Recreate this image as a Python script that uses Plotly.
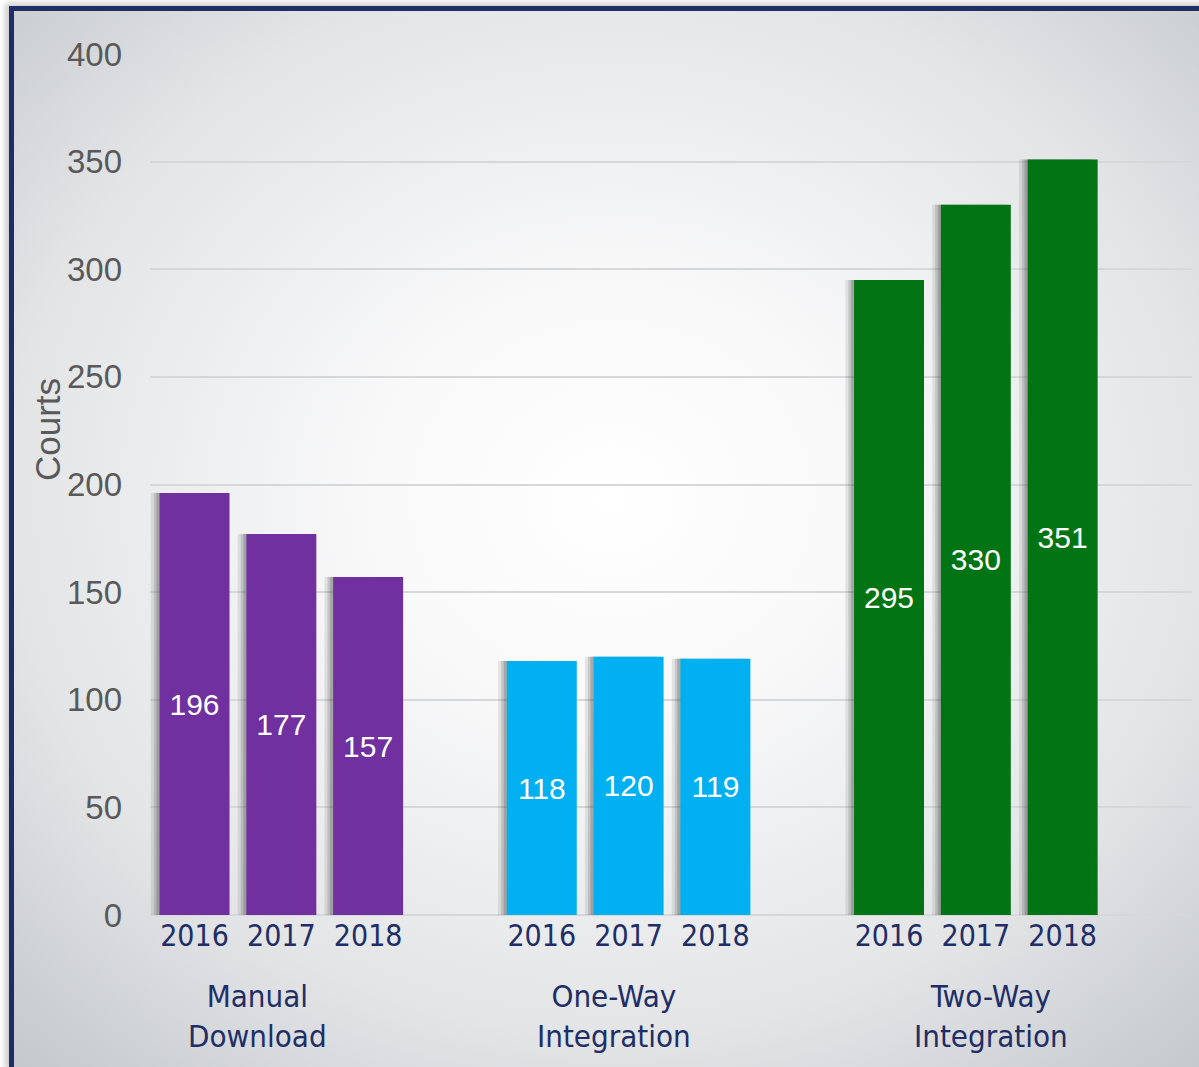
import base64
import plotly.graph_objects as go

groups = ["Manual<br>Download", "One-Way<br>Integration", "Two-Way<br>Integration"]
years = ["2016", "2017", "2018"]
manual_download = [196, 177, 157]
one_way = [118, 120, 119]
two_way = [295, 330, 351]
series = [manual_download, one_way, two_way]
colors = ["#7030a0", "#00b0f0", "#037413"]

W, H = 1199, 1067
ML, MR, MT, MB = 150, 7, 54, 152
pw, ph = W - ML - MR, H - MT - MB

navy = "#202d66"
gray = "#595959"
num_font = "Liberation Sans, Arial, sans-serif"
lab_font = "DejaVu Sans Condensed, DejaVu Sans, sans-serif"

# background panel: radial gradient + navy frame + soft shadow
svg = f"""<svg xmlns="http://www.w3.org/2000/svg" width="{W}" height="{H}" viewBox="0 0 {W} {H}" preserveAspectRatio="none">
<defs>
<radialGradient id="bg" cx="0.5" cy="0.46" r="0.72">
<stop offset="0" stop-color="#ffffff"/>
<stop offset="0.3" stop-color="#f8f8f9"/>
<stop offset="0.7" stop-color="#e2e4e6"/>
<stop offset="1" stop-color="#c6c9cd"/>
</radialGradient>
<filter id="blur" x="-5%" y="-5%" width="110%" height="110%"><feGaussianBlur stdDeviation="3"/></filter>
</defs>
<rect width="{W}" height="{H}" fill="#ffffff"/>
<rect x="5" y="3" width="{W}" height="{H}" fill="#8a8a8a" opacity="0.45" filter="url(#blur)"/>
<rect x="12" y="9" width="{W}" height="{H}" fill="url(#bg)"/>
<line x1="11.5" y1="6" x2="11.5" y2="{H}" stroke="{navy}" stroke-width="5"/>
<line x1="9" y1="8.5" x2="{W}" y2="8.5" stroke="{navy}" stroke-width="5"/>
</svg>"""
bg_src = "data:image/svg+xml;base64," + base64.b64encode(svg.encode()).decode()

# bar positions: 4 slots per group, 3 bars used
xs = [[g * 4 + j for j in range(len(years))] for g in range(len(groups))]
bw = 0.806
label_shift = [-24, -15, 15]  # group captions sit slightly off-centre in the original

fig = go.Figure()

for g, vals in enumerate(series):
    for dx, op in [(0.10, 0.10), (0.065, 0.15), (0.035, 0.2)]:
        fig.add_trace(
            go.Bar(
                x=xs[g],
                y=vals,
                width=bw,
                offset=-bw / 2 - dx,
                marker=dict(color=f"rgba(40,40,40,{op})", line_width=0),
                hoverinfo="skip",
                showlegend=False,
            )
        )

for g, vals in enumerate(series):
    fig.add_trace(
        go.Bar(
            x=xs[g],
            y=vals,
            width=bw,
            marker=dict(color=colors[g], line_width=0),
            text=[str(v) for v in vals],
            textposition="inside",
            insidetextanchor="middle",
            textangle=0,
            constraintext="none",
            textfont=dict(family=num_font, size=30, color="white"),
            showlegend=False,
            name=groups[g].replace("<br>", " "),
        )
    )

for g, name in enumerate(groups):
    fig.add_annotation(
        x=xs[g][1],
        y=-101 / ph,
        xref="x",
        yref="paper",
        xshift=label_shift[g],
        text=name,
        showarrow=False,
        font=dict(family=lab_font, size=31, color=navy),
        xanchor="center",
        yanchor="middle",
    )

fig.add_annotation(
    x=(48 - ML) / pw,
    y=(915 - 430) / ph,
    xref="paper",
    yref="paper",
    text="Courts",
    textangle=-90,
    showarrow=False,
    xanchor="center",
    yanchor="middle",
    font=dict(family=num_font, size=35, color=gray),
)

fig.add_layout_image(
    source=bg_src,
    xref="paper",
    yref="paper",
    x=-ML / pw,
    y=(ph + MT) / ph,
    sizex=W / pw,
    sizey=H / ph,
    xanchor="left",
    yanchor="top",
    sizing="stretch",
    layer="below",
)

fig.update_layout(
    width=W,
    height=H,
    margin=dict(l=ML, r=MR, t=MT, b=MB),
    barmode="overlay",
    paper_bgcolor="white",
    plot_bgcolor="rgba(0,0,0,0)",
    xaxis=dict(
        range=[-0.513, 11.49],
        tickvals=[x for row in xs for x in row],
        ticktext=years * len(groups),
        tickfont=dict(family=lab_font, size=30, color=navy),
        showgrid=False,
        zeroline=False,
        showline=False,
        ticks="",
        ticklabelstandoff=0,
    ),
    yaxis=dict(
        range=[0, 400],
        dtick=50,
        tickfont=dict(family=num_font, size=33, color=gray),
        gridcolor="#d6d7d9",
        gridwidth=1.5,
        zeroline=True,
        zerolinecolor="#d6d7d9",
        zerolinewidth=2,
        showline=False,
        ticks="",
        ticklabelstandoff=27,
    ),
)

fig.write_html(
    "out.html",
    config={"displayModeBar": False},
    post_script="document.body.style.margin='0px';",
)
